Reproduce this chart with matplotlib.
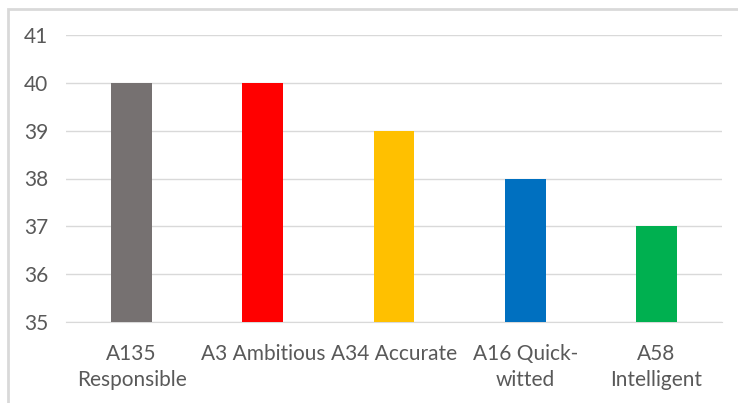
import matplotlib.pyplot as plt
from matplotlib.patches import Rectangle

categories = ["A135\nResponsible", "A3 Ambitious", "A34 Accurate", "A16 Quick-\nwitted", "A58\nIntelligent"]
values = [40, 40, 39, 38, 37]
colors = ["#767171", "#FF0000", "#FFC000", "#0070C0", "#00B050"]
yticks = [35, 36, 37, 38, 39, 40, 41]

W, H = 738, 403
fig = plt.figure(figsize=(W / 100, H / 100), dpi=100)
plt.rcParams['font.family'] = ['Lato', 'DejaVu Sans']

# chart border (only left/top visible in the reference)
top = 1 - 9 / H
fig.patches.append(Rectangle((8 / W, -0.1), 2, top + 0.1, transform=fig.transFigure,
                             fill=False, edgecolor="#D9D9D9", linewidth=2))

ax = fig.add_axes([66 / W, 1 - 322 / H, (722 - 66) / W, (322 - 35) / H])
x = range(len(categories))
ax.bar(x, values, width=0.31, color=colors, zorder=3)
ax.set_ylim(35, 41)
ax.set_xlim(-0.5, len(categories) - 0.5)
ax.set_yticks(yticks)
ax.set_xticks(list(x))
ax.set_xticklabels(categories, linespacing=1.35)
ax.grid(axis="y", color="#D9D9D9", linewidth=1, zorder=0)
for s in ["top", "right", "left"]:
    ax.spines[s].set_visible(False)
ax.spines["bottom"].set_color("#D9D9D9")
ax.tick_params(axis="both", length=0, labelsize=15, colors="#595959")
ax.tick_params(axis="y", pad=13)
ax.tick_params(axis="x", pad=16)

fig.savefig("out.png", dpi=100)
